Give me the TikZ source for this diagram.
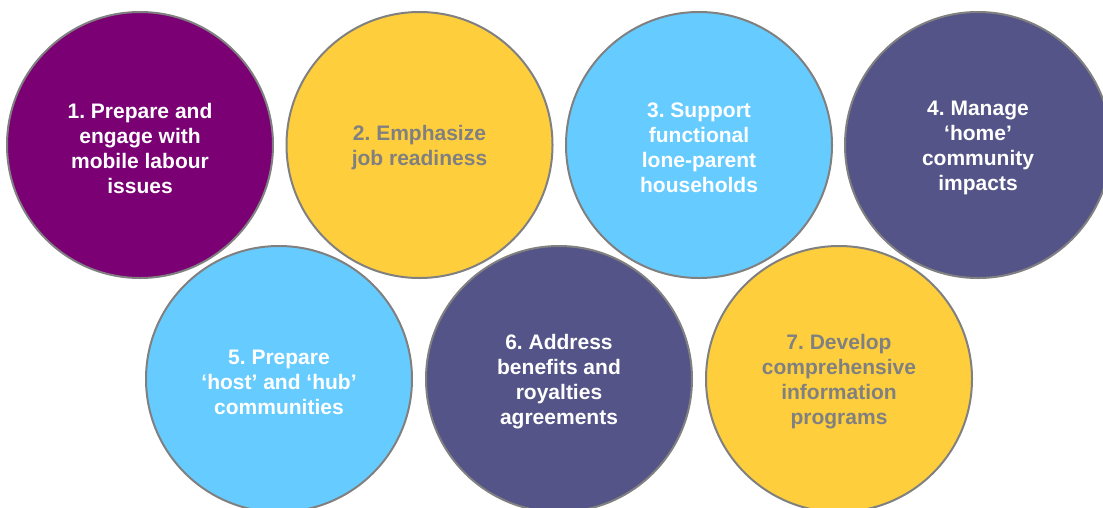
\documentclass[tikz,border=0pt]{standalone}
\usepackage{fontspec}
\setmainfont{Liberation Sans}
\frenchspacing
\definecolor{cpurple}{HTML}{7A0074}
\definecolor{cyellow}{HTML}{FECE3D}
\definecolor{cblue}{HTML}{66CCFF}
\definecolor{cnavy}{HTML}{545488}
\definecolor{cborder}{HTML}{808080}
\definecolor{ctextgray}{HTML}{808080}
\tikzset{
  circ/.style={circle, draw=cborder, line width=2pt, minimum size=266pt, inner sep=0pt},
  txt/.style={align=center, inner sep=0pt, font=\fontsize{21}{25}\selectfont\bfseries},
  whitetxt/.style={txt, text=white},
  graytxt/.style={txt, text=ctextgray}
}
\begin{document}
\begin{tikzpicture}[x=1pt,y=1pt]
\useasboundingbox (0,0) rectangle (1103,-507);
\clip (0,0) rectangle (1103,-507);
\node[circ, fill=cpurple] (c1) at (140,-145) {};
\node[circ, fill=cyellow] (c2) at (419.5,-145) {};
\node[circ, fill=cblue] (c3) at (699,-145) {};
\node[circ, fill=cnavy] (c4) at (978,-145) {};
\node[circ, fill=cblue] (c5) at (279,-379) {};
\node[circ, fill=cnavy] (c6) at (559,-379) {};
\node[circ, fill=cyellow] (c7) at (839,-379) {};
\node[whitetxt] (t1) at ([yshift=-3pt]c1.center) {1. Prepare and\\engage with\\mobile labour\\issues};
\node[graytxt] (t2) at ([yshift=-3pt]c2.center) {2. Emphasize\\job readiness};
\node[whitetxt] (t3) at ([yshift=-3pt]c3.center) {3. Support\\functional\\lone-parent\\households};
\node[whitetxt] (t4) at ([yshift=-3pt]c4.center) {4. Manage\\‘home’\\community\\impacts};
\node[whitetxt] (t5) at ([yshift=-3pt]c5.center) {5. Prepare\\‘host’ and ‘hub’\\communities};
\node[whitetxt] (t6) at ([yshift=-3pt]c6.center) {6. Address\\benefits and\\royalties\\agreements};
\node[graytxt] (t7) at ([yshift=-3pt]c7.center) {7. Develop\\comprehensive\\information\\programs};
\end{tikzpicture}
\end{document}
